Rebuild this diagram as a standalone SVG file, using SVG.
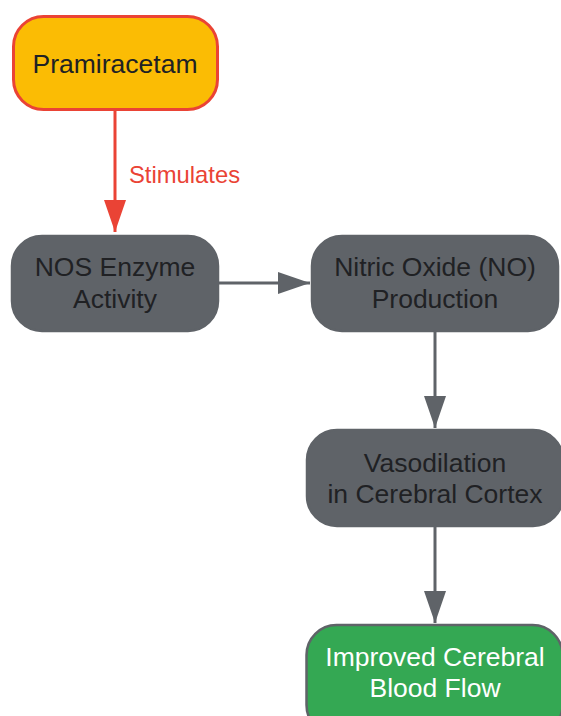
<svg xmlns="http://www.w3.org/2000/svg" width="561" height="716" viewBox="0 0 561 716">
<defs>
<style>
.t{font-family:"Liberation Sans",Arial,sans-serif;font-size:26.5px;text-anchor:middle;fill:#202124}
.w{fill:#ffffff}
.g{fill:#5f6368;stroke:#5f6368;stroke-width:2.5}
.e{fill:none;stroke-width:3}
</style>
<marker id="ar" viewBox="0 0 32 22" refX="32" refY="11" markerWidth="32" markerHeight="22" markerUnits="userSpaceOnUse" orient="auto"><path d="M0,0L32,11L0,22Z" fill="#ea4335"/></marker>
<marker id="ag" viewBox="0 0 32 22" refX="32" refY="11" markerWidth="32" markerHeight="22" markerUnits="userSpaceOnUse" orient="auto"><path d="M0,0L32,11L0,22Z" fill="#5f6368"/></marker>
</defs>
<rect width="561" height="716" fill="#ffffff"/>
<g id="connectors">
<line class="e" x1="115" y1="111" x2="115" y2="232" stroke="#ea4335" marker-end="url(#ar)"/>
<text x="129" y="183" style="font-family:'Liberation Sans',Arial,sans-serif;font-size:23.8px;fill:#ea4335">Stimulates</text>
<line class="e" x1="219" y1="283" x2="310" y2="283" stroke="#5f6368" marker-end="url(#ag)"/>
<line class="e" x1="435" y1="332" x2="435" y2="428" stroke="#5f6368" marker-end="url(#ag)"/>
<line class="e" x1="435" y1="527" x2="435" y2="623" stroke="#5f6368" marker-end="url(#ag)"/>
</g>
<g id="pramiracetam">
<rect x="13.5" y="16.5" width="204" height="93" rx="30" fill="#fbbc04" stroke="#ea4335" stroke-width="3"/>
<text class="t" x="115" y="73">Pramiracetam</text>
</g>
<g id="nos">
<rect class="g" x="12" y="236" width="206" height="95" rx="30"/>
<text class="t" x="115" y="276">NOS Enzyme</text>
<text class="t" x="115" y="308">Activity</text>
</g>
<g id="no">
<rect class="g" x="312" y="236" width="246" height="95" rx="30"/>
<text class="t" x="435" y="276">Nitric Oxide (NO)</text>
<text class="t" x="435" y="308">Production</text>
</g>
<g id="vaso">
<rect class="g" x="307" y="430" width="256" height="96" rx="30"/>
<text class="t" x="435" y="472">Vasodilation</text>
<text class="t" x="435" y="503">in Cerebral Cortex</text>
</g>
<g id="flow">
<rect x="306.5" y="625" width="256" height="110" rx="30" fill="#34a853" stroke="#5f6368" stroke-width="2.5"/>
<text class="t w" x="435" y="666">Improved Cerebral</text>
<text class="t w" x="435" y="697">Blood Flow</text>
</g>
</svg>
